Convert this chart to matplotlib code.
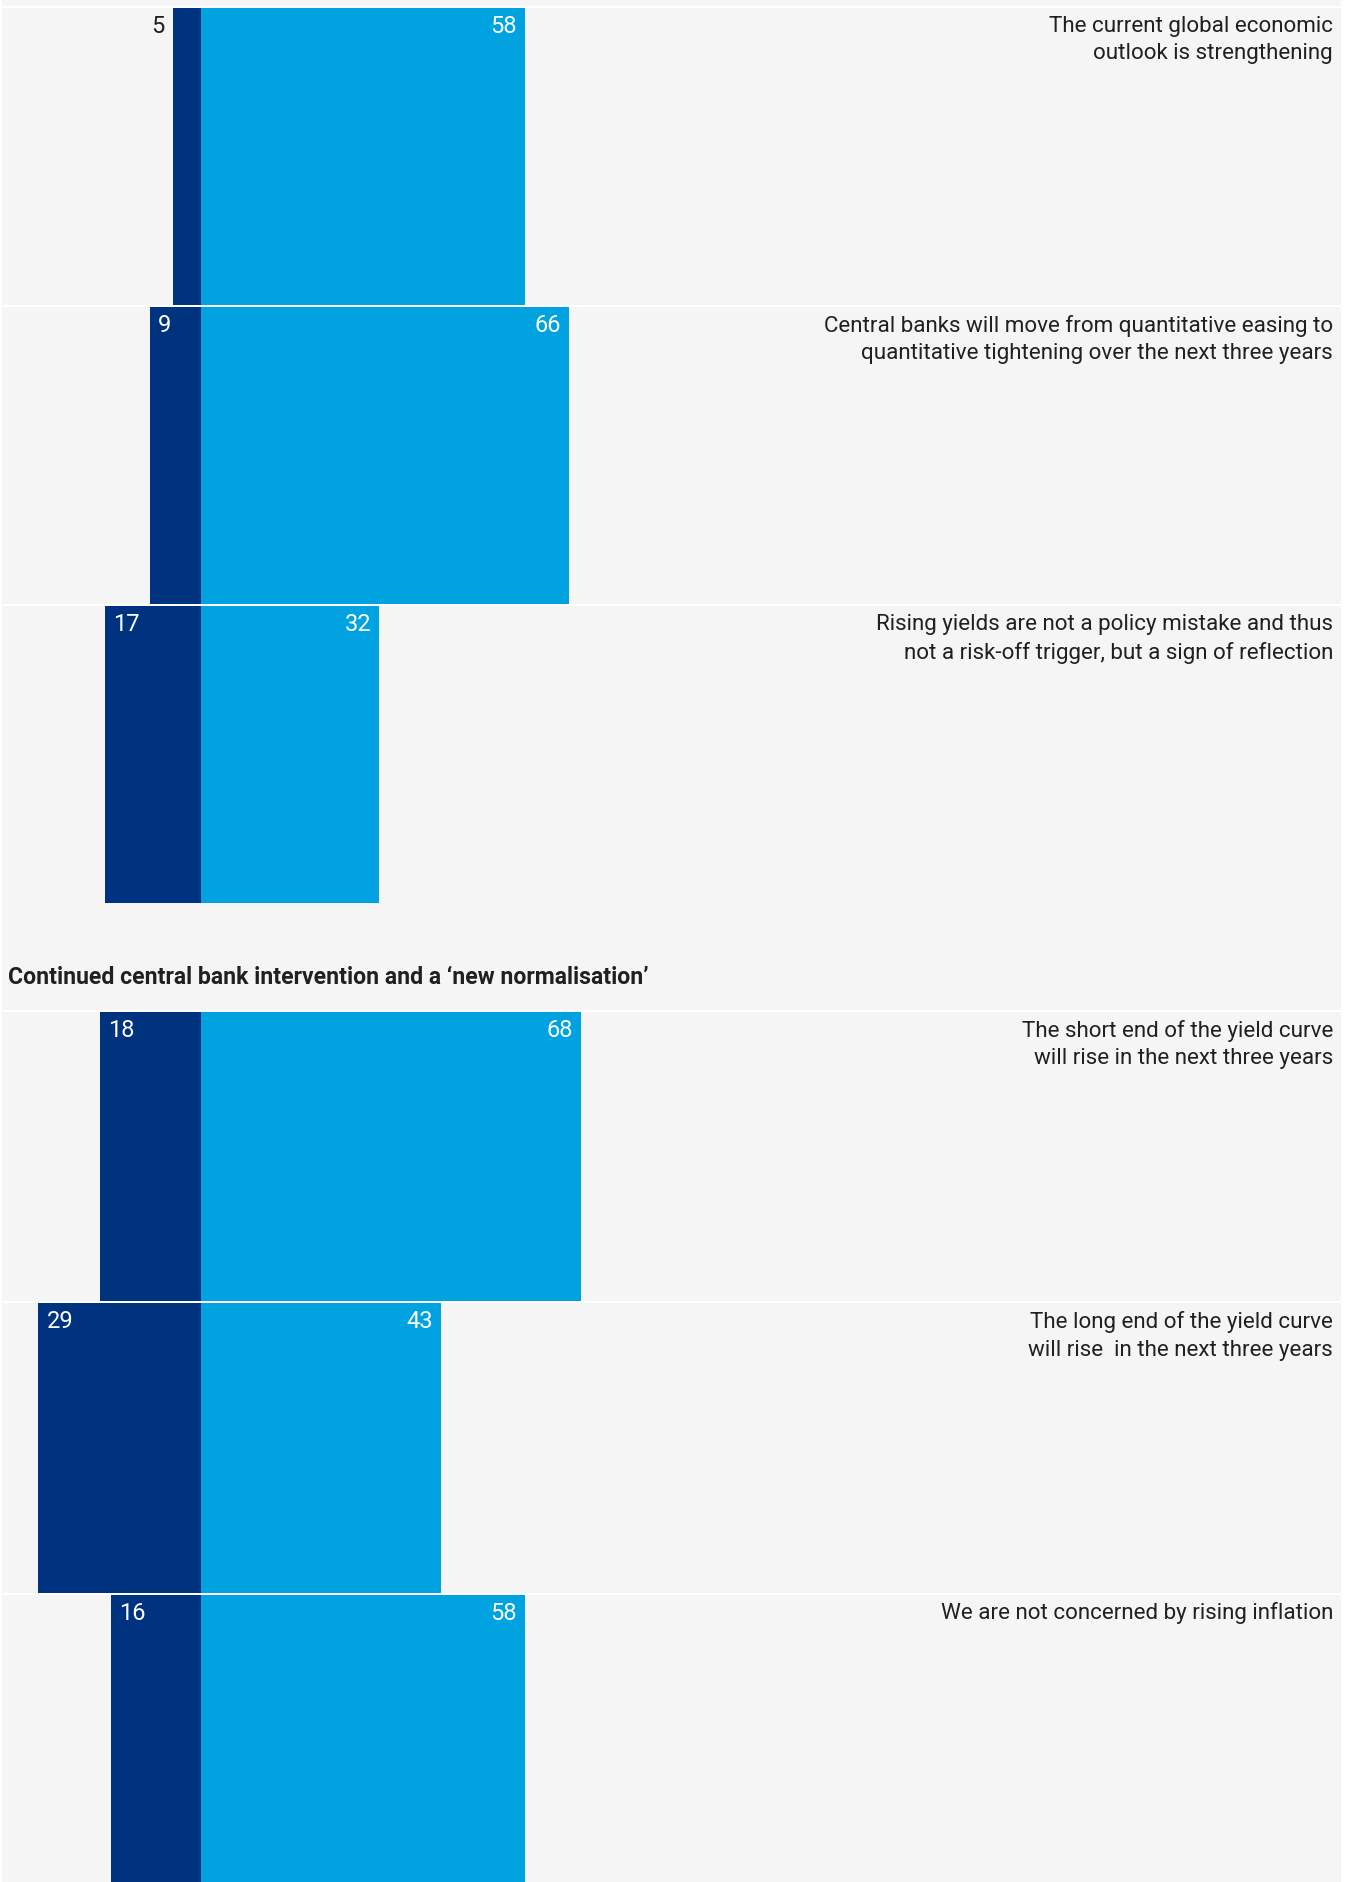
import matplotlib
matplotlib.use("Agg")
import matplotlib.pyplot as plt
from matplotlib.patches import Rectangle
import matplotlib.transforms as mtransforms

# survey statements, % disagree (left) and % agree (right)
statements = [
    "The current global economic\noutlook is strengthening",
    "Central banks will move from quantitative easing to\nquantitative tightening over the next three years",
    "Rising yields are not a policy mistake and thus\nnot a risk-off trigger, but a sign of reflection",
    "The short end of the yield curve\nwill rise in the next three years",
    "The long end of the yield curve\nwill rise  in the next three years",
    "We are not concerned by rising inflation",
]
disagree = [5, 9, 17, 18, 29, 16]
agree = [58, 66, 32, 68, 43, 58]
section_title = "Continued central bank intervention and a \u2018new normalisation\u2019"

W, H, DPI = 1352, 1883, 100
navy = "#00337f"
cyan = "#00a3e0"
bg = "#f5f5f5"
ink = "#231f20"

plt.rcParams['font.family'] = ['Roboto', 'DejaVu Sans']

# layout (pixels)
zero_px = 200.5
ppu = 5.59  # pixels per percentage point
row_tops, row_h = [], []
for k in range(3):
    row_tops.append(7.5 + k * 299)
    row_h.append(299)
for k in range(3):
    row_tops.append(1011.5 + k * 291.5)
    row_h.append(291.5)

fig = plt.figure(figsize=(W / DPI, H / DPI), dpi=DPI)
fig.patch.set_facecolor("white")
ax = fig.add_axes([0, 0, 1, 1])
ax.set_xlim(-zero_px / ppu, (W - zero_px) / ppu)
ax.set_ylim(H, 0)
ax.axis("off")

ax.add_patch(Rectangle((2 / W, 0), (1341 - 2) / W, 1, transform=ax.transAxes,
                       facecolor=bg, edgecolor="none", zorder=0))

for top, h in zip(row_tops, row_h):
    ax.axhline(top, xmin=2 / W, xmax=1341 / W, color="white", lw=1.5, zorder=1)

centers = [t + h / 2 for t, h in zip(row_tops, row_h)]
heights = [h - 2 for h in row_h]
ax.barh(centers, agree, height=heights, left=0, color=cyan, zorder=2)
ax.barh(centers, disagree, height=heights, left=[-d for d in disagree], color=navy, zorder=2)

xfrac = mtransforms.blended_transform_factory(ax.transAxes, ax.transData)
for i, top in enumerate(row_tops):
    ylab = top + 19
    ax.text(agree[i] - 8 / ppu, ylab, str(agree[i]), ha="right", va="center",
            color="white", fontsize=17, zorder=3)
    d = disagree[i]
    if d * ppu < 30:
        ax.text(-d - 8 / ppu, ylab, str(d), ha="right", va="center",
                color=ink, fontsize=17, zorder=3)
    else:
        ax.text(-d + 8 / ppu, ylab, str(d), ha="left", va="center",
                color="white", fontsize=17, zorder=3)
    ax.text(1333 / W, top + 8, statements[i], transform=xfrac, ha="right", va="top",
            multialignment="right", color=ink, fontsize=16.1, linespacing=1.42, zorder=3)

ax.text(8 / W, 977, section_title, transform=xfrac, ha="left", va="center",
        color=ink, fontsize=16.6, fontweight="bold")

fig.savefig("out.png", dpi=DPI, facecolor=fig.get_facecolor())
